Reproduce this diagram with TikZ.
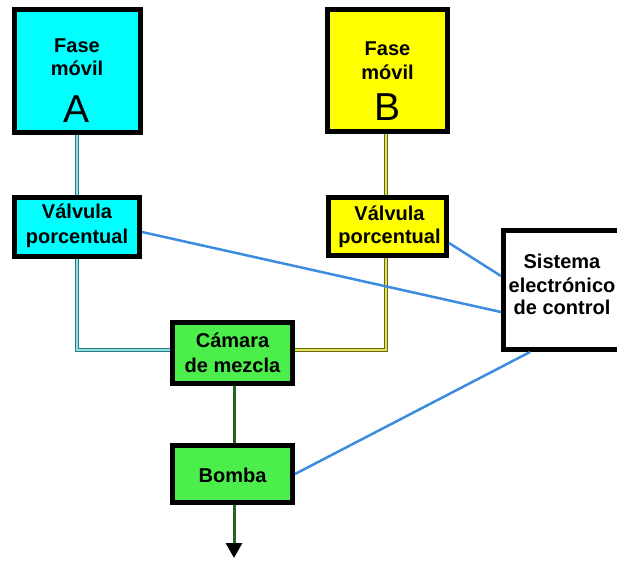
\documentclass[tikz,border=0pt]{standalone}
\usepackage{fontspec}
\setmainfont{Liberation Sans}
\usetikzlibrary{arrows.meta}

\definecolor{fillA}{RGB}{0,255,255}
\definecolor{fillB}{RGB}{255,255,0}
\definecolor{fillMix}{RGB}{76,238,76}
\definecolor{pipeAout}{RGB}{35,125,130}
\definecolor{pipeAin}{RGB}{150,225,228}
\definecolor{pipeBout}{RGB}{105,105,15}
\definecolor{pipeBin}{RGB}{225,225,90}
\definecolor{pipeMix}{RGB}{40,100,40}
\definecolor{signal}{RGB}{60,140,225}

\tikzset{
  box/.style={draw=black, line width=5pt, rectangle, inner sep=0pt},
  lbl/.style={anchor=base, inner sep=0pt, font=\fontsize{20}{24}\selectfont\bfseries},
  big/.style={anchor=base, inner sep=0pt, font=\fontsize{39}{39}\selectfont},
  pipeA/.style={draw=pipeAout, line width=1.7pt, double=pipeAin, double distance=1.3pt},
  pipeB/.style={draw=pipeBout, line width=1.7pt, double=pipeBin, double distance=1.3pt},
  pipeM/.style={draw=pipeMix, line width=3pt},
  ctrl/.style={draw=signal, line width=2.5pt},
}

\begin{document}
\begin{tikzpicture}[x=1pt, y=-1pt]
  \useasboundingbox (0,0) rectangle (617,560);

  % reservoirs
  \node[box, fill=fillA, minimum width=126pt, minimum height=123pt] (resA) at (77,71) {};
  \node[box, fill=fillB, minimum width=120pt, minimum height=122pt] (resB) at (387.5,70.5) {};
  % proportioning valves
  \node[box, fill=fillA, minimum width=125pt, minimum height=59pt] (valA) at (77,227) {};
  \node[box, fill=fillB, minimum width=118pt, minimum height=58pt] (valB) at (387.5,226.5) {};
  % mixing chamber and pump
  \node[box, fill=fillMix, minimum width=120pt, minimum height=61pt] (mix) at (232.5,353) {};
  \node[box, fill=fillMix, minimum width=120pt, minimum height=57pt] (pump) at (232.5,474) {};
  % controller (runs off the right edge)
  \node[box, fill=white, minimum width=124pt, minimum height=119pt] (ctl) at (565.5,290) {};

  % labels
  \node[lbl] (tA1) at (77,52) {Fase};
  \node[lbl] (tA2) at (77,75) {móvil};
  \node[big] (tA3) at (77,122) {A};
  \node[lbl] (tB1) at (387.5,55) {Fase};
  \node[lbl] (tB2) at (387.5,79) {móvil};
  \node[big] (tB3) at (387.5,120) {B};
  \node[lbl] (tvA1) at (77,218) {Válvula};
  \node[lbl] (tvA2) at (77,243) {porcentual};
  \node[lbl] (tvB1) at (389.5,220) {Válvula};
  \node[lbl] (tvB2) at (389.5,243) {porcentual};
  \node[lbl] (tm1) at (232.5,347) {Cámara};
  \node[lbl] (tm2) at (232.5,372) {de mezcla};
  \node[lbl] (tp) at (232.5,482) {Bomba};
  \node[lbl] (tc1) at (562,268) {Sistema};
  \node[lbl] (tc2) at (562,292) {electrónico};
  \node[lbl] (tc3) at (562,314) {de control};

  % solvent lines
  \draw[pipeA] (resA.south) -- (valA.north);
  \draw[pipeA] (valA.south) |- ([yshift=3pt]mix.west);
  \draw[pipeB] ([xshift=-1.5pt]resB.south) -- ([xshift=-1.5pt]valB.north);
  \draw[pipeB] ([xshift=-1.5pt]valB.south) |- ([yshift=3pt]mix.east);
  \draw[pipeM] ([xshift=1.5pt]mix.south) -- ([xshift=1.5pt]pump.north);
  \coordinate (out) at (234,558);
  \draw[pipeM, -{Triangle[width=16pt,length=15pt,color=black]}] ([xshift=1.5pt]pump.south) -- (out);

  % control signals
  \draw[ctrl] ([yshift=-5pt]valA.east) -- ([yshift=-22pt]ctl.west);
  \draw[ctrl] ([yshift=-16.5pt]valB.east) -- ([yshift=14pt]ctl.west);
  \draw[ctrl] (pump.east) -- ([xshift=29pt]ctl.south west);
\end{tikzpicture}
\end{document}
